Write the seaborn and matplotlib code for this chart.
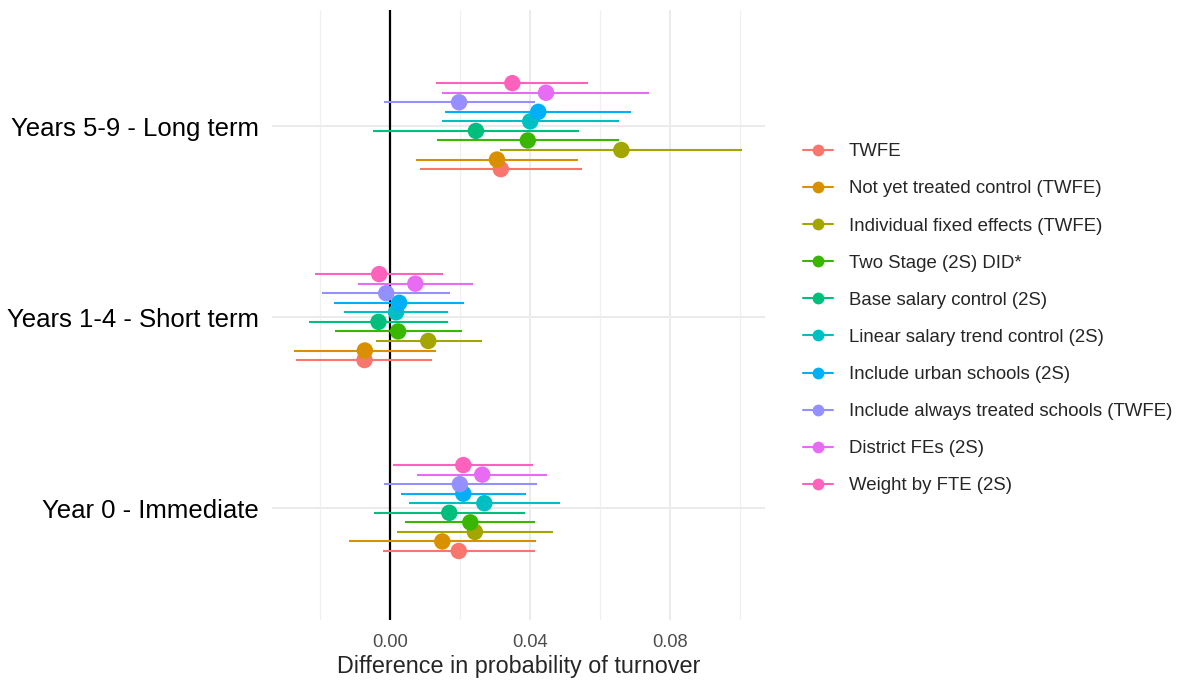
import numpy as np
import pandas as pd
import matplotlib
matplotlib.use("Agg")
import matplotlib.pyplot as plt
from matplotlib.lines import Line2D
import seaborn as sns

# model names (legend order, bottom to top within each group)
models = [
    "TWFE",
    "Not yet treated control (TWFE)",
    "Individual fixed effects (TWFE)",
    "Two Stage (2S) DID*",
    "Base salary control (2S)",
    "Linear salary trend control (2S)",
    "Include urban schools (2S)",
    "Include always treated schools (TWFE)",
    "District FEs (2S)",
    "Weight by FTE (2S)",
]
periods = ["Year 0 - Immediate", "Years 1-4 - Short term", "Years 5-9 - Long term"]

# estimates per period, one value per model
est_year0 = [0.0197, 0.0150, 0.0243, 0.0230, 0.0170, 0.0270, 0.0210, 0.0200, 0.0264, 0.0210]
lo_year0 = [-0.0020, -0.0115, 0.0021, 0.0043, -0.0045, 0.0055, 0.0032, -0.0016, 0.0078, 0.0010]
hi_year0 = [0.0416, 0.0417, 0.0466, 0.0416, 0.0386, 0.0486, 0.0389, 0.0419, 0.0450, 0.0410]

est_short = [-0.0072, -0.0071, 0.0110, 0.0024, -0.0032, 0.0018, 0.0027, -0.0010, 0.0073, -0.0030]
lo_short = [-0.0267, -0.0272, -0.0040, -0.0156, -0.0229, -0.0131, -0.0159, -0.0194, -0.0091, -0.0213]
hi_short = [0.0122, 0.0131, 0.0262, 0.0205, 0.0166, 0.0167, 0.0212, 0.0173, 0.0239, 0.0153]

est_long = [0.0317, 0.0306, 0.0661, 0.0394, 0.0246, 0.0401, 0.0424, 0.0198, 0.0446, 0.0350]
lo_long = [0.0086, 0.0075, 0.0316, 0.0134, -0.0049, 0.0149, 0.0158, -0.0017, 0.0150, 0.0131]
hi_long = [0.0548, 0.0538, 0.1006, 0.0653, 0.0541, 0.0653, 0.0689, 0.0414, 0.0741, 0.0567]

frames = []
for i, (p, e, l, h) in enumerate(zip(periods,
                                     [est_year0, est_short, est_long],
                                     [lo_year0, lo_short, lo_long],
                                     [hi_year0, hi_short, hi_long])):
    frames.append(pd.DataFrame({"period": p, "pidx": i, "model": models,
                                "midx": range(len(models)),
                                "est": e, "lo": l, "hi": h}))
df = pd.concat(frames, ignore_index=True)

# dodge like ggplot position_dodge(width = 0.5)
dodge = 0.5 / len(models)
df["y"] = df["pidx"] + (df["midx"] - (len(models) - 1) / 2) * dodge

palette = ["#F8766D", "#D89000", "#A3A500", "#39B600", "#00BF7D",
           "#00BFC4", "#00B0F6", "#9590FF", "#E76BF3", "#FF62BC"]
colors = dict(zip(models, palette))

sns.set_style("white")
plt.rcParams["font.family"] = ["Liberation Sans", "DejaVu Sans"]

fig = plt.figure(figsize=(11.8, 6.82), dpi=100)
ax = fig.add_axes([0.2305, 0.091, 0.4175, 0.894])

# grid
for x in [-0.02, 0.02, 0.06, 0.10]:
    ax.axvline(x, color="#F0F0F0", lw=0.9, zorder=0)
for x in [0.0, 0.04, 0.08]:
    ax.axvline(x, color="#EBEBEB", lw=1.4, zorder=0)
for y in range(len(periods)):
    ax.axhline(y, color="#EBEBEB", lw=1.4, zorder=0)
ax.axvline(0, color="black", lw=1.6, zorder=1)

for _, r in df.iterrows():
    ax.hlines(r["y"], r["lo"], r["hi"], color=colors[r["model"]], lw=1.5, zorder=2)
sns.scatterplot(data=df, x="est", y="y", hue="model", palette=colors,
                hue_order=models, s=140, edgecolor="none", legend=False,
                ax=ax, zorder=3)

ax.set_xlim(-0.0336, 0.107)
ax.set_ylim(-0.586, 2.607)
ax.set_xticks([0.0, 0.04, 0.08])
ax.set_xticklabels(["0.00", "0.04", "0.08"])
ax.set_yticks(range(len(periods)))
ax.set_yticklabels(periods)
ax.tick_params(axis="x", labelsize=13.2, colors="#4D4D4D", length=0, pad=10)
ax.tick_params(axis="y", labelsize=18.5, colors="black", length=0, pad=9.5)
ax.set_xlabel("Difference in probability of turnover", fontsize=16.8, labelpad=3)
ax.set_ylabel("")
for s in ax.spines.values():
    s.set_visible(False)

handles = [Line2D([0], [0], color=colors[m], lw=1.5, marker="o", markersize=8.5,
                  markeredgewidth=0) for m in models]
fig.legend(handles, models, loc="upper left", bbox_to_anchor=(0.6805, 0.790),
           frameon=False, fontsize=13.4, handlelength=1.6, handletextpad=0.86,
           labelspacing=1.08, borderpad=0, borderaxespad=0)

fig.savefig("out.png", dpi=100)
